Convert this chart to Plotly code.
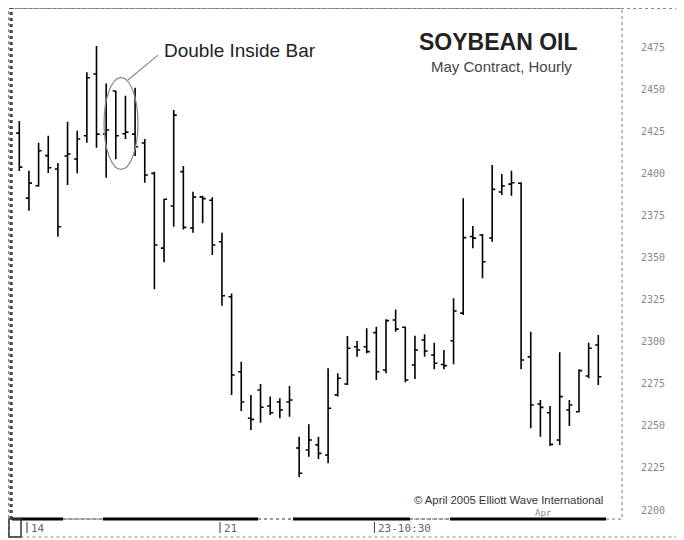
import plotly.graph_objects as go

# ---- data ----
bar_index = list(range(61))
opens = [2423.9, 2385.3, 2392.6, 2410.5, 2402.6, 2410.3, 2408.5, 2422.3, 2459.0, 2423.3,
         2448.9, 2423.5, 2423.3, 2418.0, 2400.0, 2355.6, 2380.6, 2401.0, 2367.5, 2386.0,
         2384.0, 2359.4, 2326.7, 2282.2, 2254.5, 2271.3, 2261.8, 2264.2, 2264.2, 2236.9,
         2235.7, 2238.7, 2232.7, 2268.4, 2274.9, 2297.0, 2297.0, 2305.4, 2283.2, 2312.9,
         2308.6, 2286.2, 2301.0, 2292.1, 2286.5, 2300.6, 2317.0, 2362.5, 2363.4, 2361.6,
         2388.9, 2393.6, 2394.1, 2291.0, 2263.0, 2257.8, 2241.6, 2259.4, 2258.4, 2279.6,
         2298.0]
highs = [2431.1, 2401.5, 2418.2, 2422.3, 2406.1, 2430.6, 2425.3, 2460.0, 2475.6, 2453.4,
         2449.1, 2446.1, 2450.8, 2420.4, 2401.0, 2384.7, 2437.6, 2404.3, 2389.1, 2386.7,
         2385.8, 2364.7, 2328.7, 2288.1, 2268.4, 2274.9, 2267.4, 2266.4, 2273.7, 2243.6,
         2251.0, 2243.6, 2284.2, 2281.2, 2303.4, 2300.4, 2308.0, 2308.9, 2313.3, 2319.2,
         2308.9, 2303.6, 2304.4, 2299.4, 2295.1, 2325.8, 2385.2, 2368.7, 2364.0, 2404.9,
         2399.6, 2401.5, 2394.7, 2305.9, 2265.4, 2261.8, 2293.7, 2265.4, 2283.6, 2299.4,
         2304.0]
lows = [2401.4, 2377.8, 2392.0, 2400.2, 2362.4, 2393.1, 2400.0, 2418.2, 2415.2, 2397.4,
        2408.3, 2420.4, 2410.3, 2394.4, 2331.1, 2347.2, 2368.3, 2366.7, 2364.7, 2370.3,
        2351.5, 2321.4, 2268.4, 2258.9, 2247.6, 2251.9, 2256.5, 2254.5, 2255.5, 2219.5,
        2231.7, 2230.4, 2227.8, 2267.4, 2274.3, 2291.1, 2293.1, 2277.3, 2281.2, 2305.9,
        2275.9, 2277.9, 2291.1, 2283.6, 2283.6, 2286.6, 2315.9, 2355.5, 2337.7, 2359.4,
        2387.1, 2386.7, 2283.6, 2248.6, 2243.6, 2238.1, 2238.7, 2249.9, 2258.1, 2278.3,
        2274.3]
closes = [2403.7, 2394.2, 2413.4, 2403.3, 2368.3, 2411.5, 2420.4, 2456.8, 2423.3, 2425.7,
          2422.3, 2424.5, 2415.8, 2399.0, 2357.4, 2384.6, 2434.6, 2367.9, 2385.9, 2385.0,
          2357.4, 2327.3, 2280.2, 2264.2, 2253.9, 2261.1, 2257.8, 2259.4, 2265.4, 2221.9,
          2241.6, 2233.7, 2260.5, 2278.3, 2296.1, 2295.1, 2294.1, 2282.2, 2312.5, 2307.5,
          2277.3, 2295.1, 2294.5, 2287.2, 2285.8, 2318.2, 2361.8, 2361.5, 2347.5, 2390.5,
          2392.5, 2394.4, 2289.1, 2262.4, 2261.0, 2239.0, 2267.4, 2262.4, 2282.8, 2296.1,
          2279.2]

x_tick_pos = [1, 21, 37]
x_tick_text = ["14", "21", "23-10:30"]
y_ticks = [2200, 2225, 2250, 2275, 2300, 2325, 2350, 2375, 2400, 2425, 2450, 2475]

# ---- layout geometry ----
# The page body adds an 8px offset, so the figure is drawn 8px smaller and
# every target (page) pixel p maps to figure pixel p - 8.
OFF = 8
W, H = 684 - OFF, 540 - OFF
L, R, T, B = 12 - OFF, 622 - OFF, 0, 519 - OFF   # plot area in figure pixels
X_RANGE = [-0.756, 62.456]
Y_RANGE = [2194.7, 2498.2]


def px(xp):
    """page x pixel -> paper x"""
    return (xp - OFF - L) / (R - L)


def py(yp):
    """page y pixel -> paper y"""
    return (B - (yp - OFF)) / (B - T)


FONT = "Liberation Sans, Arial, sans-serif"
MONO = "DejaVu Sans Mono, monospace"

fig = go.Figure()
fig.add_trace(go.Ohlc(
    x=bar_index, open=opens, high=highs, low=lows, close=closes,
    increasing=dict(line=dict(color="black", width=1.6)),
    decreasing=dict(line=dict(color="black", width=1.6)),
    tickwidth=0.32, hoverinfo="skip", showlegend=False,
))

shapes = []
# plot frame (dotted)
shapes.append(dict(type="rect", xref="paper", yref="paper", x0=0, x1=1, y0=0, y1=py(8.5),
                   line=dict(color="#777", width=1, dash="dot"), layer="below"))
# outer frame
shapes.append(dict(type="rect", xref="paper", yref="paper",
                   x0=px(8.5), x1=px(679), y0=py(537), y1=py(8.5),
                   line=dict(color="#888", width=1, dash="dot"), layer="below"))
shapes.append(dict(type="line", xref="paper", yref="paper",
                   x0=px(680), x1=px(680), y0=py(539), y1=py(8),
                   line=dict(color="#666", width=2)))
# thick hatched left border
shapes.append(dict(type="line", xref="paper", yref="paper",
                   x0=px(11), x1=px(11), y0=0, y1=py(8),
                   line=dict(color="#444", width=3, dash="dot")))
# bottom axis line with lighter gaps
segments = [(12, 63, "black"), (63, 103, "gray"), (103, 258, "black"), (258, 293, "gray"),
            (293, 410, "black"), (410, 450, "gray"), (450, 606, "black")]
for a, b, c in segments:
    if c == "black":
        shapes.append(dict(type="line", xref="paper", yref="paper", x0=px(a), x1=px(b),
                           y0=0, y1=0, line=dict(color="black", width=3)))
    else:
        shapes.append(dict(type="line", xref="paper", yref="paper", x0=px(a), x1=px(b),
                           y0=0, y1=0, line=dict(color="#999", width=2, dash="dot")))
# small box bottom-left
shapes.append(dict(type="rect", xref="paper", yref="paper",
                   x0=px(9), x1=px(21), y0=py(537), y1=0,
                   line=dict(color="#333", width=1.5)))
# x tick marks
for t in x_tick_pos:
    shapes.append(dict(type="line", xref="x", yref="paper", x0=t - 0.2, x1=t - 0.2,
                       y0=py(522), y1=py(533), line=dict(color="#333", width=1)))
# ellipse around the double inside bar
shapes.append(dict(type="circle", xref="x", yref="y", x0=8.78, x1=12.3,
                   y0=2402.3, y1=2456.9, line=dict(color="#888", width=1.2)))
shapes.append(dict(type="line", xref="x", yref="y", x0=11.26, x1=14.37,
                   y0=2455.4, y1=2470.2, line=dict(color="#888", width=1.2)))


def label(text, x, y, size, color, family=FONT, xref="paper", xanchor="center"):
    return dict(text=text, x=x, y=y, xref=xref, yref="paper", showarrow=False,
                xanchor=xanchor, yanchor="middle",
                font=dict(family=family, size=size, color=color))


annotations = [
    label("<b>SOYBEAN OIL</b>", px(498), py(42), 23, "#222"),
    label("May Contract, Hourly", px(501), py(66), 15, "#444"),
    label("Double Inside Bar", px(240), py(50), 19, "#222"),
    label("© April 2005 Elliott Wave International", px(508), py(500), 11.3, "#333"),
    label("Apr", px(543), py(513), 9, "#888", family=MONO),
]
for t, s in zip(x_tick_pos, x_tick_text):
    annotations.append(label(s, t, py(528), 11, "#666", family=MONO, xref="x",
                             xanchor="left"))

fig.update_layout(
    width=W, height=H,
    margin=dict(l=L, r=W - R, t=T, b=H - B, pad=0),
    paper_bgcolor="white", plot_bgcolor="white",
    showlegend=False,
    xaxis=dict(range=X_RANGE, showgrid=False, zeroline=False, showline=False,
               showticklabels=False, ticks="", rangeslider=dict(visible=False),
               fixedrange=True),
    yaxis=dict(range=Y_RANGE, side="right", showgrid=False, zeroline=False,
               showline=False, ticks="", tickvals=y_ticks,
               ticktext=[str(v) for v in y_ticks], ticklabelstandoff=18,
               tickfont=dict(family=MONO, size=10, color="#888"),
               fixedrange=True, automargin=False),
    shapes=shapes,
    annotations=annotations,
)

fig.write_html("out.html")
